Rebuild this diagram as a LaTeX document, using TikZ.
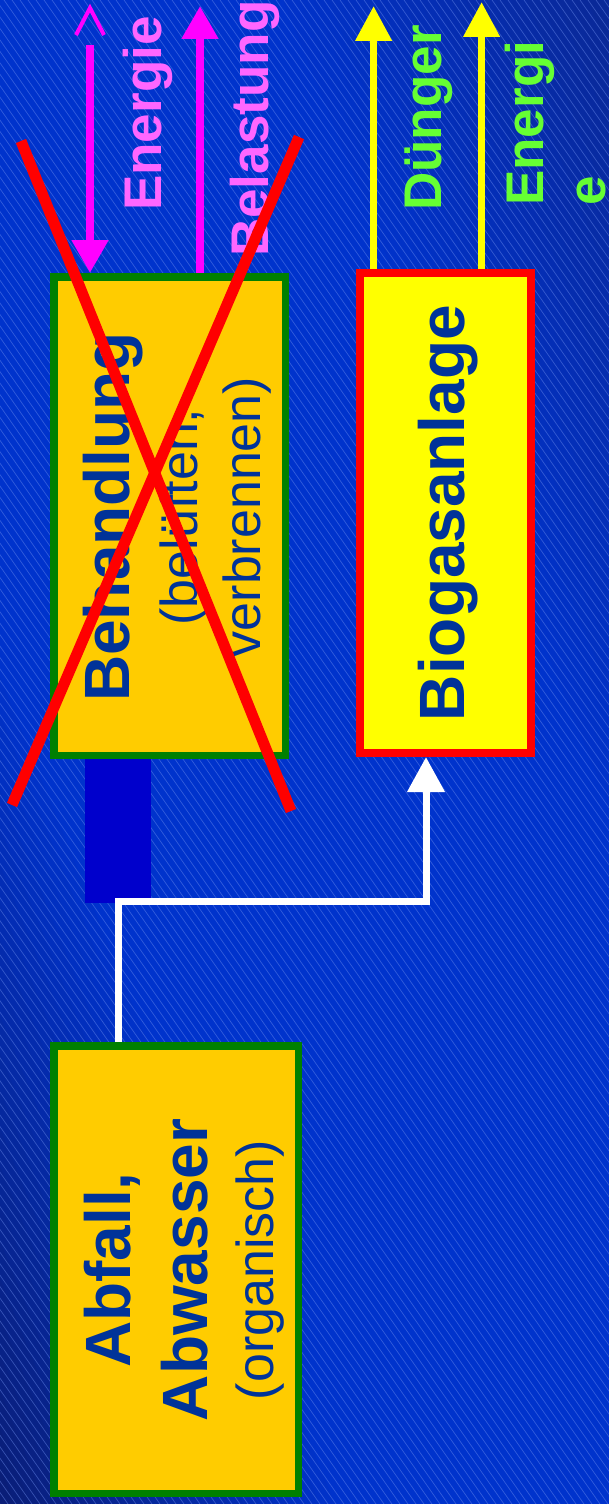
\documentclass[tikz,border=0pt]{standalone}
\usepackage{fontspec}
\setmainfont{Liberation Sans}
\usetikzlibrary{arrows.meta}
\setlength{\parindent}{0pt}
\definecolor{bgmid}{HTML}{0033CC}
\definecolor{bgbl}{HTML}{0A1E78}
\definecolor{bgtr}{HTML}{0A2896}
\definecolor{stripecol}{HTML}{7090F0}
\definecolor{boxgreen}{HTML}{008000}
\definecolor{boxgold}{HTML}{FFCC00}
\definecolor{boxred}{HTML}{FF0000}
\definecolor{boxyellow}{HTML}{FFFF00}
\definecolor{txtblue}{HTML}{003399}
\definecolor{pinklabel}{HTML}{FF66FF}
\definecolor{greenlabel}{HTML}{66FF33}
\definecolor{magentaflow}{HTML}{FF00FF}
\definecolor{yellowline}{HTML}{FFFF00}
\definecolor{darkblock}{HTML}{0000CC}
\tikzset{
  greenbox/.style={draw=boxgreen, fill=boxgold, line width=7.5pt, inner sep=0pt, outer sep=auto},
  redbox/.style={draw=boxred, fill=boxyellow, line width=8pt, inner sep=0pt, outer sep=auto},
  boxtext/.style={rotate=90, text=txtblue, inner sep=0pt, text width=470pt, align=center},
  flowlabel/.style={rotate=90, inner sep=0pt, anchor=base west, font=\fontsize{53}{63}\selectfont\bfseries},
  pinkarrow/.style={draw=magentaflow, line width=8pt, -{Triangle[width=35pt,length=33pt]}},
  yellowarrow/.style={draw=yellowline, line width=7.5pt, -{Triangle[width=35pt,length=35pt]}},
  whitearrow/.style={draw=white, line width=7pt, -{Triangle[width=36pt,length=35pt]}},
  crossline/.style={draw=boxred, line width=11pt},
  stripeline/.style={draw=stripecol, line width=0.7pt, opacity=0.45}
}
\begin{document}
\begin{tikzpicture}[x=1pt,y=1pt]
\path[use as bounding box] (0,0) rectangle (609,-1504);
% background: bands parallel to the top-left/bottom-right diagonal
\begin{scope}
  \clip (0,0) rectangle (609,-1504);
  \fill[bgmid] (0,0) rectangle (609,-1504);
  \begin{scope}[shift={(0,-1504)}, x=609pt, y=1504pt]
    \foreach \c in {0,0.025,...,0.55} {
      \pgfmathsetmacro{\p}{100*\c/0.55}
      \fill[bgmid!\p!bgbl] (\c+1,-1) -- (\c+1.035,-1) -- (\c-0.965,1) -- (\c-1,1) -- cycle;
    }
    \foreach \c in {1.45,1.475,...,2.0} {
      \pgfmathsetmacro{\p}{100*(2.0-\c)/0.55}
      \fill[bgmid!\p!bgtr] (\c+0.99,-1) -- (\c+1.035,-1) -- (\c-0.965,1) -- (\c-1.01,1) -- cycle;
    }
  \end{scope}
  \foreach \i in {-1060,-1052,...,616} \draw[stripeline] (\i,0) -- ++(1052,-1504);
\end{scope}
% dark block below treatment box
\node[fill=darkblock, inner sep=0pt, minimum width=66pt, minimum height=146pt] (blk) at (118,-830) {};
% boxes
\node[greenbox, minimum width=231.5pt, minimum height=478.5pt] (beh) at (169.5,-516) {};
\node[boxtext] (behT) at (177,-517) {\fontsize{64}{77}\selectfont\bfseries Behandlung\par
  \fontsize{52}{68}\selectfont\mdseries (belüften,\par
  \fontsize{52}{63}\selectfont verbrennen)\par};
\node[greenbox, minimum width=244.5pt, minimum height=447.5pt] (abf) at (176,-1269.5) {};
\node[boxtext] (abfT) at (183.8,-1270) {\fontsize{64}{77}\selectfont\bfseries Abfall,\par
  \fontsize{64}{77}\selectfont Abwasser\par
  \fontsize{52}{66}\selectfont\mdseries (organisch)\par};
\node[redbox, minimum width=171pt, minimum height=480pt] (bio) at (445.5,-513) {};
\node[rotate=90, anchor=base, inner sep=0pt, text=txtblue, font=\fontsize{64}{77}\selectfont\bfseries] (bioT) at (464,-513) {Biogasanlage};
% free arrow ends
\coordinate (eIn) at (90,-45);
\coordinate (bOut) at (200,-6);
\coordinate (dOut) at (373.6,-6);
\coordinate (eOut) at (481.6,-2);
\coordinate (wx) at (118,0);
\coordinate (jn) at (426,-901);
% arrows
\draw[pinkarrow] (eIn) -- (beh.north -| eIn);
\draw[draw=magentaflow, line width=4pt] (76,-35) -- (90,-8) -- (104,-35);
\draw[pinkarrow] (beh.north -| bOut) -- (bOut);
\draw[yellowarrow] (bio.north -| dOut) -- (dOut);
\draw[yellowarrow] (bio.north -| eOut) -- (eOut);
\draw[whitearrow] (abf.north -| wx) |- (jn) -- (bio.south -| jn);
% labels
\node[flowlabel, text=pinklabel] (lEn) at (161,-211) {Energie};
\node[flowlabel, text=pinklabel] (lBel) at (268,-257) {Belastung};
\node[flowlabel, text=greenlabel] (lDue) at (441,-211) {Dünger};
\node[rotate=90, inner sep=0pt, anchor=north west, align=left, text=greenlabel, font=\fontsize{53}{62}\selectfont\bfseries] (lEn2) at (505,-206) {Energi\\e};
% red cross
\draw[crossline] (21,-141) -- (291,-811);
\draw[crossline] (299,-137) -- (12,-805);
\end{tikzpicture}
\end{document}
